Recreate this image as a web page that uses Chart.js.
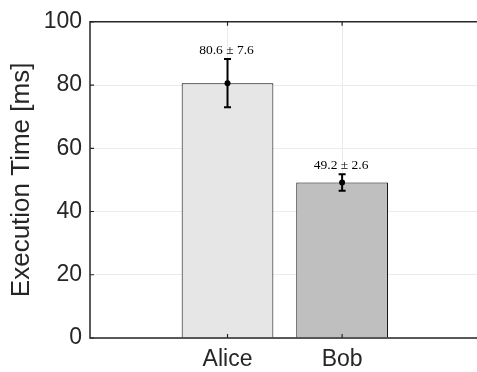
<!DOCTYPE html>
<html>
<head>
<meta charset="utf-8">
<script src="https://cdn.jsdelivr.net/npm/chart.js@4/dist/chart.umd.min.js"></script>
<style>
  body { margin: 0; background: #fff; }
  #wrap { width: 477px; height: 372px; }
</style>
</head>
<body>
<div id="wrap"><canvas id="bar-chart"></canvas></div>
<script>
// dados
const nomes = ['Alice', 'Bob'];
const posicoes = [1, 2];
const medias = [80.6, 49.2];
const desvios = [7.6, 2.6];
const cores = ['#e6e6e6', '#bfbfbf'];
const yTicks = [0, 20, 40, 60, 80, 100];

const eixoCor = '#262626';

// caixa dos eixos, marcas internas, barras de erro e rotulos
const extras = {
    id: 'extras',
    afterDatasetsDraw(chart) {
        const { ctx, chartArea: a, scales } = chart;
        const xs = scales.x, ys = scales.y;
        const meta = chart.getDatasetMeta(0);
        ctx.save();

        // barras de erro
        ctx.strokeStyle = '#000';
        ctx.fillStyle = '#000';
        ctx.lineWidth = 2;
        medias.forEach((m, i) => {
            const x = meta.data[i].x;
            const yTop = ys.getPixelForValue(m + desvios[i]);
            const yBot = ys.getPixelForValue(m - desvios[i]);
            const yMid = ys.getPixelForValue(m);
            ctx.beginPath();
            ctx.moveTo(x, yTop); ctx.lineTo(x, yBot);
            ctx.moveTo(x - 3.5, yTop); ctx.lineTo(x + 3.5, yTop);
            ctx.moveTo(x - 3.5, yBot); ctx.lineTo(x + 3.5, yBot);
            ctx.stroke();
            ctx.beginPath();
            ctx.arc(x, yMid, 3, 0, Math.PI * 2);
            ctx.fill();

            ctx.font = '13.5px "Liberation Serif", serif';
            ctx.textAlign = 'center';
            ctx.textBaseline = 'alphabetic';
            ctx.fillText(m.toFixed(1) + ' \u00b1 ' + desvios[i].toFixed(1), x - 1, yTop - 5);
        });

        // caixa (lado direito fica fora da figura)
        const w = chart.width;
        ctx.strokeStyle = eixoCor;
        ctx.lineWidth = 1.5;
        ctx.beginPath();
        ctx.moveTo(w, a.top); ctx.lineTo(a.left, a.top);
        ctx.lineTo(a.left, a.bottom); ctx.lineTo(w, a.bottom);
        ctx.stroke();

        // marcas para dentro
        ctx.lineWidth = 1.2;
        ctx.beginPath();
        yTicks.forEach(v => {
            const y = ys.getPixelForValue(v);
            ctx.moveTo(a.left, y); ctx.lineTo(a.left + 4, y);
        });
        posicoes.forEach(v => {
            const x = xs.getPixelForValue(v);
            ctx.moveTo(x, a.bottom); ctx.lineTo(x, a.bottom - 4);
            ctx.moveTo(x, a.top); ctx.lineTo(x, a.top + 4);
        });
        ctx.stroke();
        ctx.restore();
    }
};

const ctx1 = document.getElementById('bar-chart');
const chart1 = new Chart(ctx1, {
    type: 'bar',
    data: {
        datasets: [{
            data: posicoes.map((p, i) => ({ x: p, y: medias[i] })),
            backgroundColor: cores,
            borderColor: '#000',
            borderWidth: 1,
            barPercentage: 0.8,
            categoryPercentage: 1
        }]
    },
    options: {
        responsive: true,
        maintainAspectRatio: false,
        animation: false,
        layout: { padding: { top: 16, right: 0, left: 0, bottom: 0 } },
        plugins: {
            legend: { display: false },
            tooltip: { enabled: false }
        },
        scales: {
            x: {
                type: 'linear',
                min: -0.2,
                max: 3.177,
                offset: false,
                afterBuildTicks: s => { s.ticks = posicoes.map(v => ({ value: v })); },
                afterFit: s => { s.height = 34; },
                grid: { color: '#ebebeb', drawTicks: false, offset: false },
                border: { display: false },
                ticks: {
                    padding: 8,
                    color: eixoCor,
                    font: { family: '"Liberation Sans", Arial, sans-serif', size: 23 },
                    callback: v => nomes[posicoes.indexOf(v)] || ''
                }
            },
            y: {
                min: 0,
                max: 100,
                afterBuildTicks: s => { s.ticks = yTicks.map(v => ({ value: v })); },
                afterFit: s => { s.width = 90; },
                grid: { color: '#ebebeb', drawTicks: false },
                border: { display: false },
                ticks: {
                    padding: 8,
                    color: eixoCor,
                    font: { family: '"Liberation Sans", Arial, sans-serif', size: 23 }
                },
                title: {
                    display: true,
                    text: 'Execution Time [ms]',
                    color: eixoCor,
                    padding: { top: 6, bottom: 0 },
                    font: { family: '"Liberation Sans", Arial, sans-serif', size: 26 }
                }
            }
        }
    },
    plugins: [extras]
});
</script>
</body>
</html>
